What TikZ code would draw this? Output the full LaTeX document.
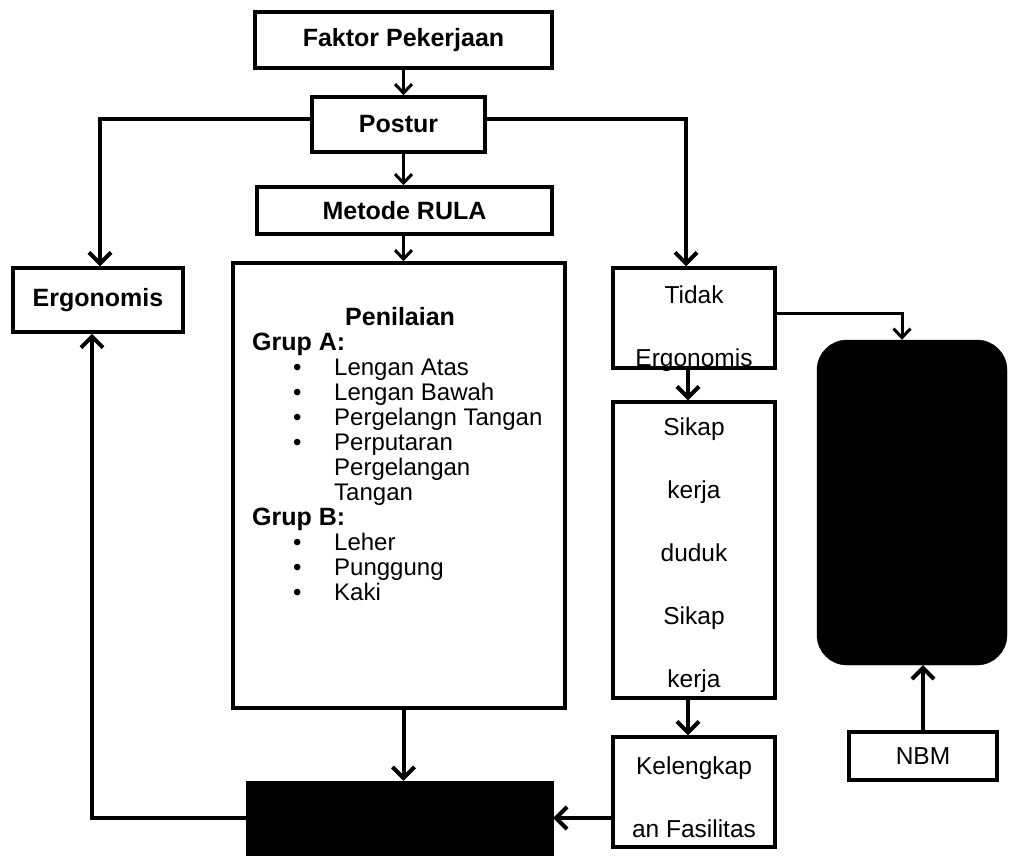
\documentclass[tikz,border=0pt]{standalone}
\usepackage{fontspec}
\setmainfont{Liberation Sans}
\usetikzlibrary{arrows.meta,positioning,calc}

\newcommand{\pitem}[1]{\hspace*{41pt}{\mdseries\fontsize{24}{25}\selectfont\makebox[41pt][l]{\textbullet}#1}}
\newcommand{\pcont}[1]{\hspace*{82pt}{\mdseries\fontsize{24}{25}\selectfont #1}}

\begin{document}
\begin{tikzpicture}[x=1pt, y=-1pt,
  box/.style={draw, line width=3.5pt, align=center, inner sep=0pt},
  head/.style={font=\fontsize{25}{30}\selectfont\bfseries},
  body/.style={font=\fontsize{24.5}{63}\selectfont},
  blackbox/.style={fill=black, draw=black, inner sep=0pt},
  arrow/.style={-{Straight Barb[length=11pt, width=22pt]}, line width=4pt},
  thinarrow/.style={-{Straight Barb[length=9pt, width=17pt]}, line width=3pt}
]
  \useasboundingbox (0,0) rectangle (1009,855);

  \node[box, head, minimum width=297pt, minimum height=56pt] (fak) at (403.5,40) {Faktor Pekerjaan};
  \node[box, head, minimum width=173pt, minimum height=55pt] (pos) at (398.5,124.5) {Postur};
  \node[box, head, minimum width=295pt, minimum height=47pt] (rula) at (404.5,210.5) {Metode RULA};
  \node[box, minimum width=332pt, minimum height=445pt] (pen) at (399,485.5) {};
  \node[font=\fontsize{25}{25}\selectfont\bfseries, anchor=north west, align=left, inner sep=0pt] (penlist) at (252,307) {%
    \hspace*{93pt}Penilaian\\
    Grup A:\\
    \pitem{Lengan Atas}\\
    \pitem{Lengan Bawah}\\
    \pitem{Pergelangn Tangan}\\
    \pitem{Perputaran}\\
    \pcont{Pergelangan}\\
    \pcont{Tangan}\\
    Grup B:\\
    \pitem{Leher}\\
    \pitem{Punggung}\\
    \pitem{Kaki}};
  \node[box, head, minimum width=170pt, minimum height=64pt] (erg) at (98,300) {Ergonomis};
  \node[box, minimum width=162pt, minimum height=100pt] (tidak) at (694,318) {};
  \node[body, align=center] (tidaktxt) at (694,329) {Tidak\\Ergonomis};
  \node[box, body, minimum width=162pt, minimum height=296pt] (sikap) at (694,550) {\rule{0pt}{28pt}Sikap\\kerja\\duduk\\Sikap\\kerja};
  \node[box, body, minimum width=162pt, minimum height=110pt] (kel) at (694,792) {\rule{0pt}{28pt}Kelengkap\\an Fasilitas};
  \node[box, body, minimum width=148pt, minimum height=48pt] (nbm) at (923,756) {NBM};
  \node[blackbox, minimum width=307pt, minimum height=74pt] (res) at (399.5,818) {};
  \node[blackbox, rounded corners=30pt, minimum width=190pt, minimum height=325pt] (out) at (912,502.5) {};

  \draw[thinarrow] (fak.south) -- (fak.south |- pos.north);
  \draw[thinarrow] (pos.south -| fak.south) -- (rula.north -| fak.south);
  \draw[thinarrow] (rula.south -| fak.south) -- (pen.north -| fak.south);
  \draw[arrow] ([yshift=5.5pt]pos.west) -| ([xshift=2pt]erg.north);
  \draw[arrow] ([yshift=5.5pt]pos.east) -| ([xshift=-8pt]tidak.north);
  \draw[arrow] (pen.south -| fak.south) -- (res.north -| fak.south);
  \draw[arrow] (res.west) -| ([xshift=-6pt]erg.south);
  \draw[arrow] ([xshift=-6pt]tidak.south) -- ([xshift=-6pt]sikap.north);
  \draw[arrow] ([xshift=-6pt]sikap.south) -- ([xshift=-6pt]kel.north);
  \draw[arrow] (kel.west |- res.east) -- (res.east);
  \draw[thinarrow] ([yshift=5pt]tidak.east) -| ([xshift=-10pt]out.north);
  \draw[arrow] (nbm.north) -- (nbm.north |- out.south);
\end{tikzpicture}
\end{document}
